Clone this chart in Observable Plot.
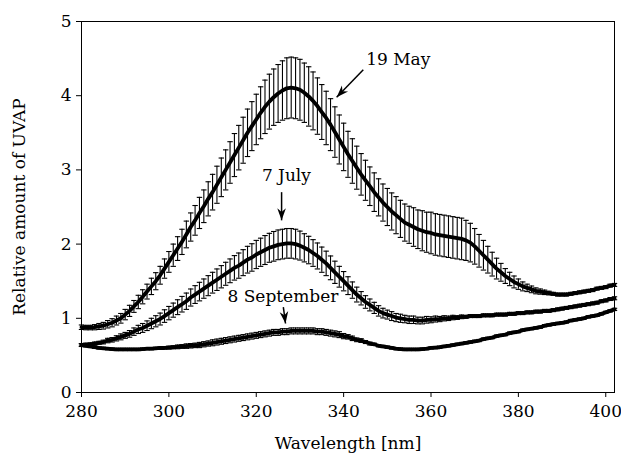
<!DOCTYPE html>
<html><head><meta charset="utf-8">
<script src="https://cdn.jsdelivr.net/npm/d3@7"></script>
<script src="https://cdn.jsdelivr.net/npm/@observablehq/plot@0.6"></script>
<style>body{margin:0;background:#fff;} #chart svg{display:block;}</style>
</head><body><div id="chart"></div>
<script>
// wavelength grid: 280..402 nm, one sample per nm
const startNm = 280;
const seriesNames = ["19 May", "7 July", "8 September"];

const may19 = [
 0.88,0.875,0.875,0.88,0.89,0.90,0.92,0.94,0.97,1.00,
 1.05,1.10,1.16,1.22,1.29,1.36,1.43,1.50,1.58,1.67,
 1.76,1.85,1.94,2.03,2.13,2.23,2.32,2.42,2.51,2.61,
 2.70,2.80,2.90,3.00,3.10,3.20,3.30,3.40,3.50,3.59,
 3.68,3.77,3.85,3.92,3.98,4.03,4.07,4.10,4.11,4.10,
 4.08,4.04,3.99,3.93,3.86,3.78,3.70,3.61,3.51,3.41,
 3.31,3.21,3.12,3.03,2.94,2.86,2.78,2.70,2.63,2.56,
 2.50,2.44,2.39,2.34,2.29,2.26,2.23,2.20,2.18,2.16,
 2.15,2.13,2.12,2.11,2.10,2.09,2.08,2.07,2.05,2.02,
 1.97,1.91,1.85,1.79,1.73,1.67,1.62,1.57,1.53,1.49,
 1.46,1.43,1.41,1.39,1.37,1.36,1.35,1.34,1.33,1.32,
 1.32,1.32,1.33,1.34,1.35,1.36,1.37,1.38,1.40,1.41,
 1.42,1.44,1.45];
const may19Err = [
 0.03,0.03,0.03,0.035,0.04,0.045,0.05,0.055,0.06,0.065,
 0.07,0.075,0.08,0.09,0.095,0.10,0.11,0.115,0.12,0.13,
 0.14,0.15,0.16,0.17,0.18,0.19,0.20,0.21,0.22,0.23,
 0.24,0.25,0.26,0.27,0.28,0.29,0.30,0.31,0.32,0.33,
 0.34,0.35,0.36,0.37,0.38,0.39,0.40,0.41,0.41,0.41,
 0.41,0.40,0.40,0.39,0.38,0.37,0.36,0.35,0.34,0.33,
 0.32,0.31,0.30,0.29,0.28,0.27,0.26,0.26,0.25,0.25,
 0.25,0.25,0.25,0.25,0.25,0.25,0.26,0.26,0.27,0.27,
 0.28,0.28,0.28,0.28,0.28,0.28,0.28,0.28,0.27,0.26,
 0.24,0.22,0.20,0.18,0.16,0.14,0.12,0.10,0.09,0.08,
 0.07,0.06,0.05,0.045,0.04,0.035,0.03,0.025,0.02,0.02,
 0.02,0.02,0.02,0.02,0.02,0.02,0.02,0.02,0.02,0.02,
 0.02,0.02,0.02];

const jul7 = [
 0.64,0.645,0.65,0.66,0.67,0.68,0.70,0.71,0.73,0.75,
 0.77,0.79,0.82,0.85,0.87,0.90,0.93,0.96,0.99,1.03,
 1.07,1.11,1.15,1.19,1.23,1.28,1.32,1.36,1.40,1.44,
 1.48,1.52,1.56,1.60,1.64,1.68,1.71,1.75,1.79,1.82,
 1.86,1.89,1.92,1.95,1.97,1.99,2.00,2.01,2.01,2.00,
 1.98,1.95,1.92,1.88,1.84,1.79,1.74,1.68,1.62,1.56,
 1.50,1.44,1.38,1.32,1.27,1.22,1.18,1.14,1.10,1.07,
 1.05,1.03,1.01,1.00,0.99,0.98,0.98,0.97,0.97,0.98,
 0.98,0.99,0.99,1.00,1.00,1.01,1.01,1.02,1.02,1.03,
 1.03,1.03,1.04,1.04,1.04,1.05,1.05,1.05,1.06,1.06,
 1.07,1.07,1.08,1.08,1.09,1.09,1.10,1.10,1.11,1.12,
 1.13,1.14,1.15,1.16,1.17,1.18,1.19,1.20,1.21,1.23,
 1.24,1.26,1.27];
const jul7Err = [
 0.02,0.02,0.02,0.02,0.02,0.025,0.03,0.03,0.035,0.04,
 0.04,0.045,0.05,0.055,0.06,0.065,0.07,0.075,0.08,0.085,
 0.09,0.095,0.10,0.105,0.11,0.115,0.12,0.125,0.13,0.135,
 0.14,0.145,0.15,0.155,0.16,0.165,0.17,0.175,0.18,0.185,
 0.19,0.19,0.195,0.195,0.20,0.20,0.20,0.20,0.20,0.20,
 0.195,0.19,0.185,0.18,0.175,0.17,0.165,0.16,0.15,0.14,
 0.13,0.12,0.11,0.10,0.09,0.085,0.08,0.075,0.07,0.065,
 0.06,0.06,0.055,0.055,0.05,0.05,0.05,0.045,0.045,0.045,
 0.04,0.04,0.035,0.035,0.03,0.03,0.025,0.025,0.02,0.02,
 0.02,0.02,0.02,0.02,0.02,0.02,0.02,0.02,0.02,0.02,
 0.02,0.02,0.02,0.02,0.02,0.02,0.02,0.02,0.02,0.02,
 0.02,0.02,0.02,0.02,0.02,0.02,0.02,0.02,0.02,0.02,
 0.02,0.02,0.02];

const sep8 = [
 0.64,0.63,0.62,0.61,0.60,0.595,0.59,0.585,0.58,0.58,
 0.58,0.58,0.58,0.58,0.585,0.59,0.59,0.595,0.60,0.60,
 0.605,0.61,0.615,0.62,0.625,0.63,0.635,0.64,0.65,0.66,
 0.67,0.68,0.69,0.70,0.71,0.72,0.73,0.74,0.75,0.76,
 0.77,0.78,0.79,0.80,0.81,0.81,0.82,0.82,0.83,0.83,
 0.83,0.83,0.83,0.83,0.82,0.82,0.81,0.80,0.79,0.78,
 0.76,0.75,0.73,0.71,0.70,0.68,0.66,0.65,0.63,0.62,
 0.61,0.60,0.59,0.585,0.58,0.58,0.58,0.58,0.585,0.59,
 0.60,0.605,0.61,0.62,0.63,0.64,0.65,0.66,0.67,0.68,
 0.69,0.70,0.72,0.73,0.74,0.76,0.77,0.78,0.80,0.81,
 0.82,0.84,0.85,0.86,0.87,0.88,0.90,0.91,0.92,0.93,
 0.94,0.95,0.97,0.98,0.99,1.00,1.02,1.03,1.04,1.06,
 1.08,1.10,1.12];
const sep8Err = [
 0.015,0.015,0.015,0.015,0.015,0.015,0.015,0.015,0.015,0.015,
 0.015,0.015,0.015,0.015,0.015,0.015,0.015,0.015,0.015,0.015,
 0.02,0.02,0.025,0.025,0.03,0.03,0.03,0.035,0.035,0.035,
 0.04,0.04,0.04,0.04,0.04,0.04,0.04,0.04,0.04,0.04,
 0.04,0.04,0.04,0.04,0.04,0.04,0.04,0.04,0.04,0.04,
 0.04,0.04,0.04,0.04,0.04,0.04,0.04,0.04,0.04,0.04,
 0.035,0.03,0.03,0.025,0.025,0.02,0.02,0.015,0.015,0.015,
 0.015,0.015,0.015,0.015,0.015,0.015,0.015,0.015,0.015,0.015,
 0.015,0.015,0.015,0.015,0.015,0.015,0.015,0.015,0.015,0.015,
 0.015,0.015,0.015,0.015,0.015,0.015,0.015,0.015,0.015,0.015,
 0.015,0.015,0.015,0.015,0.015,0.015,0.015,0.015,0.015,0.015,
 0.015,0.015,0.015,0.015,0.015,0.015,0.015,0.015,0.015,0.015,
 0.015,0.015,0.015];

const xTicks = [280, 300, 320, 340, 360, 380, 400];
const yTicks = [0, 1, 2, 3, 4, 5];

// annotation labels (text position and arrow start/end, in data units)
const annLabels = ["19 May", "7 July", "8 September"];
const annTextX = [352.5, 326.9, 326.1];
const annTextY = [4.49, 2.93, 1.29];
const arrX1 = [344.5, 325.8, 326.2];
const arrY1 = [4.35, 2.70, 1.15];
const arrX2 = [338.4, 325.8, 326.7];
const arrY2 = [3.98, 2.32, 0.93];

const W = 621, H = 461, mL = 81, mR = 7, mT = 21, mB = 69;
const xDomain = [280, 402], yDomain = [0, 5];
const kx = (W - mL - mR) / (xDomain[1] - xDomain[0]);
const ky = (H - mT - mB) / (yDomain[1] - yDomain[0]);

const rows = [];
[[may19, may19Err], [jul7, jul7Err], [sep8, sep8Err]].forEach(([m, e], k) => {
  m.forEach((v, i) => rows.push({series: seriesNames[k], w: startNm + i, mean: v, err: e[i]}));
});
const anns = annLabels.map((t, i) => ({t, tx: annTextX[i], ty: annTextY[i], x1: arrX1[i], y1: arrY1[i], x2: arrX2[i], y2: arrY2[i]}));

const capSymbol = {draw(ctx, size) { const r = Math.sqrt(size / Math.PI); ctx.moveTo(-r, 0); ctx.lineTo(r, 0); }};
// filled barbed arrowhead pointing down, tip at origin
const headSymbol = {draw(ctx, size) {
  const r = Math.sqrt(size / Math.PI);
  ctx.moveTo(0, 0); ctx.lineTo(-0.36 * r, -r); ctx.lineTo(0, -0.7 * r); ctx.lineTo(0.36 * r, -r); ctx.closePath();
}};
const headAngle = d => Math.atan2(-(d.x2 - d.x1) * kx, -(d.y2 - d.y1) * ky) * 180 / Math.PI;

const chart = Plot.plot({
  width: W, height: H,
  marginLeft: mL, marginRight: mR, marginTop: mT, marginBottom: mB,
  style: {fontFamily: "'DejaVu Serif', serif", fontSize: "17px", color: "#000", background: "#fff"},
  x: {domain: xDomain, ticks: xTicks, tickFormat: "d", tickSize: 5, tickPadding: 7, label: "Wavelength [nm]", labelAnchor: "center", labelArrow: "none", labelOffset: 56},
  y: {domain: yDomain, ticks: yTicks, tickFormat: "d", tickSize: 5, tickPadding: 5, label: "Relative amount of UVAP", labelAnchor: "center", labelArrow: "none", labelOffset: 69},
  marks: [
    Plot.frame({stroke: "#000", strokeWidth: 1}),
    Plot.ruleX(rows, {x: "w", y1: d => d.mean - d.err, y2: d => d.mean + d.err, stroke: "#000", strokeWidth: 1.1}),
    Plot.dot(rows, {x: "w", y: d => d.mean + d.err, symbol: capSymbol, r: 2.7, stroke: "#000", strokeWidth: 1.1, fill: "none"}),
    Plot.dot(rows, {x: "w", y: d => d.mean - d.err, symbol: capSymbol, r: 2.7, stroke: "#000", strokeWidth: 1.1, fill: "none"}),
    Plot.line(rows, {x: "w", y: "mean", z: "series", stroke: "#000", strokeWidth: 3.8}),
    Plot.text(anns, {x: "tx", y: "ty", text: "t", fill: "#000", fontSize: 17}),
    Plot.link(anns, {x1: "x1", y1: "y1", x2: "x2", y2: "y2", stroke: "#000", strokeWidth: 1.5}),
    Plot.dot(anns, {x: "x2", y: "y2", symbol: headSymbol, r: 12, rotate: headAngle, fill: "#000", stroke: "none"})
  ]
});
document.getElementById("chart").appendChild(chart);
</script>
</body></html>
